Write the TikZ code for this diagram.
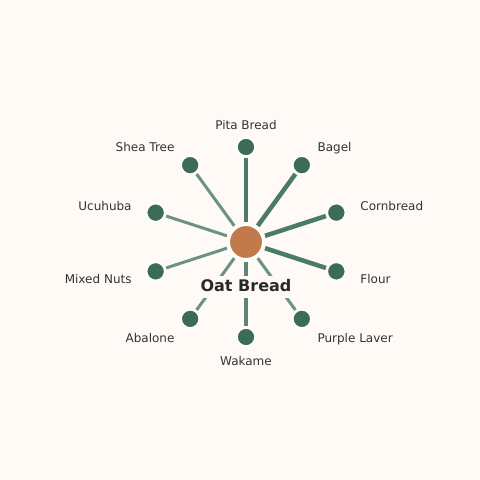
\documentclass[tikz,border=0pt]{standalone}
\usepackage{fontspec}
\setmainfont{DejaVu Sans}
\usetikzlibrary{calc}
\definecolor{bgcol}{HTML}{FFFAF6}
\definecolor{leafcol}{HTML}{3D6B5A}
\definecolor{hubcol}{HTML}{C17A4A}
\definecolor{edgecol}{HTML}{4A7A68}
\definecolor{labcol}{HTML}{333333}

\begin{document}
\begin{tikzpicture}[x=1pt,y=1pt,
  leaf/.style={circle, fill=leafcol, draw=white, line width=1.5pt, minimum size=18pt, inner sep=0pt},
  hub/.style={circle, fill=hubcol, draw=white, line width=2pt, minimum size=34pt, inner sep=0pt},
  lab/.style={text=labcol, font=\fontsize{12}{14}\selectfont, inner sep=2pt, text height=11pt, text depth=1pt},
  heavy/.style={draw=edgecol, line width=4.5pt, shorten <=2pt, shorten >=1.25pt},
  mid/.style={draw=edgecol!90!white, line width=3.5pt, shorten <=2pt, shorten >=1.25pt},
  light/.style={draw=edgecol!82!white, line width=3pt, shorten <=2pt, shorten >=1.25pt}]
\fill[bgcol] (-246,-238) rectangle (234,242);
\node[hub] (oat) at (0,0) {};
\node[leaf] (pita) at (90:95) {};
\node[leaf] (bagel) at (54:95) {};
\node[leaf] (corn) at (18:95) {};
\node[leaf] (flour) at (-18:95) {};
\node[leaf] (laver) at (-54:95) {};
\node[leaf] (wakame) at (-90:95) {};
\node[leaf] (abalone) at (-126:95) {};
\node[leaf] (nuts) at (-162:95) {};
\node[leaf] (ucuhuba) at (162:95) {};
\node[leaf] (shea) at (126:95) {};

\draw[heavy] (oat) -- (pita);
\draw[heavy] (oat) -- (bagel);
\draw[heavy] (oat) -- (corn);
\draw[heavy] (oat) -- (flour);
\draw[light] (oat) -- (laver);
\draw[mid] (oat) -- (wakame);
\draw[light] (oat) -- (abalone);
\draw[light] (oat) -- (nuts);
\draw[light] (oat) -- (ucuhuba);
\draw[light] (oat) -- (shea);

\node[lab, anchor=center] (pitalab) at (90:118) {Pita Bread};
\node[lab, anchor=west] (bagellab) at (54:118) {Bagel};
\node[lab, anchor=west] (cornlab) at (18:118) {Cornbread};
\node[lab, anchor=west] (flourlab) at (-18:118) {Flour};
\node[lab, anchor=west] (laverlab) at (-54:118) {Purple Laver};
\node[lab, anchor=center] (wakamelab) at (-90:118) {Wakame};
\node[lab, anchor=east] (abalonelab) at (-126:118) {Abalone};
\node[lab, anchor=east] (nutslab) at (-162:118) {Mixed Nuts};
\node[lab, anchor=east] (ucuhubalab) at (162:118) {Ucuhuba};
\node[lab, anchor=east] (shealab) at (126:118) {Shea Tree};
\node[fill=bgcol, text=labcol!80!black, font=\fontsize{16}{18}\selectfont\bfseries, text height=12pt, text depth=4pt, inner xsep=3pt, inner ysep=3pt] (oatlab) at (0,-45) {Oat Bread};
\end{tikzpicture}
\end{document}
